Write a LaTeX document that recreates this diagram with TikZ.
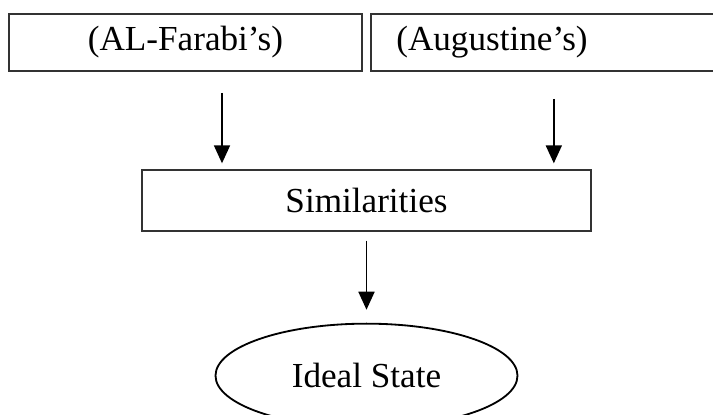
\documentclass[tikz,border=0pt]{standalone}
\usepackage{fontspec}
\setmainfont{Liberation Serif}
\usetikzlibrary{arrows.meta,positioning,shapes.geometric}
\tikzset{%
	>={Triangle[width=4mm,length=4.5mm]},
	% Specifications for style of nodes:
	base/.style = {rectangle, draw=black!80, line width=1.3pt,
		minimum height=1.425cm, text centered},
	source/.style = {base, minimum width=8.825cm},
	common/.style = {base, minimum width=11.225cm, minimum height=1.525cm},
	goal/.style = {ellipse, draw=black, line width=1.3pt, inner sep=0pt,
		minimum width=7.55cm, minimum height=2.6cm},
	link/.style = {->, line width=1.3pt, color=black},
}
\begin{document}
\begin{tikzpicture}[every node/.style={font=\fontsize{25}{30}\selectfont}]
	
	\useasboundingbox (0,0) rectangle (17.825,-10.35);
	
	% Specification of nodes (position, etc.)
	\node (farabi)     [source] at (4.6375,-1.0625)   {(AL-Farabi’s)};
	
	\node (augustine)  [source, right=0.175cm of farabi, text width=7.55cm,
		align=left, inner xsep=0.6375cm]             {(Augustine’s)};
	
	\node (similar)    [common, below=2.425cm of farabi, xshift=4.525cm]
		{Similarities};
	
	\node (ideal)      [goal, below=2.275cm of similar] {Ideal State};
	
	% arrows
	\draw[link] [shorten <=0.525cm, shorten >=0.14cm]
		([xshift=0.9125cm]farabi.south) -- ([xshift=0.9125cm]farabi.south |- similar.north);
	
	\draw[link] [shorten <=0.675cm, shorten >=0.14cm]
		([xshift=0.1625cm]augustine.south) -- ([xshift=0.1625cm]augustine.south |- similar.north);
	
	\draw[link] [shorten <=0.225cm, shorten >=0.325cm]
		(similar.south) -- (ideal.north);
	
\end{tikzpicture}
\end{document}
